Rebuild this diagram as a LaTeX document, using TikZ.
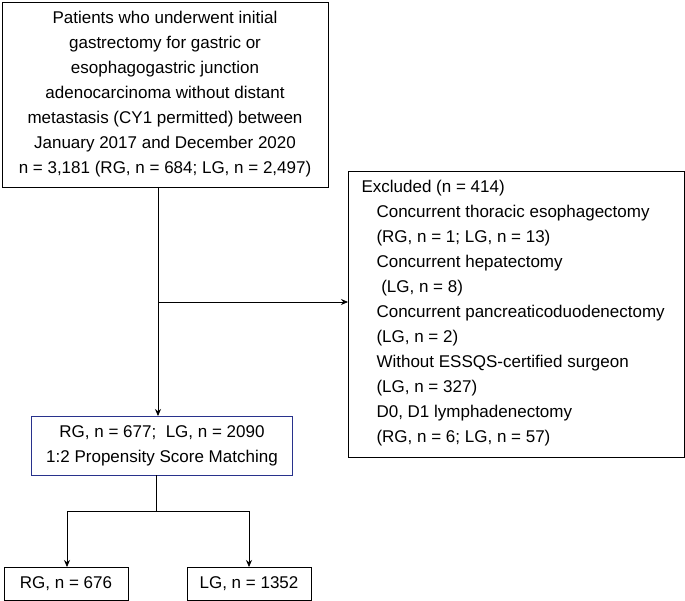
\documentclass[tikz,border=0pt]{standalone}
\usepackage{fontspec}
\setmainfont{Liberation Sans}
\usetikzlibrary{arrows.meta}
\begin{document}
\begin{tikzpicture}[x=1pt,y=-1pt,
 box/.style={draw,line width=0.8pt,inner sep=0pt},
 arr/.style={-{Stealth[length=7pt,width=6pt]},line width=0.8pt},
 ln/.style={line width=0.8pt},
 txt/.style={font=\fontsize{17}{25}\selectfont}]
\useasboundingbox (0,0) rectangle (685,601);
\draw[box] (2,2) rectangle (328,187);
\node[txt,align=center] (top) at (165,94) {Patients who underwent initial\\gastrectomy for gastric or\\esophagogastric junction\\adenocarcinoma without distant\\metastasis (CY1 permitted) between\\January 2017 and December 2020\\n = 3,181 (RG, n = 684; LG, n = 2,497)};
\draw[box] (348,171) rectangle (684,457);
\node[txt,align=left,anchor=north west] (exc) at (358,177) {Excluded (n = 414)\\
\hspace*{15pt}Concurrent thoracic esophagectomy\\
\hspace*{15pt}(RG, n = 1; LG, n = 13)\\
\hspace*{15pt}Concurrent hepatectomy\\
\hspace*{15pt} (LG, n = 8)\\
\hspace*{15pt}Concurrent pancreaticoduodenectomy\\
\hspace*{15pt}(LG, n = 2)\\
\hspace*{15pt}Without ESSQS-certified surgeon\\
\hspace*{15pt}(LG, n = 327)\\
\hspace*{15pt}D0, D1 lymphadenectomy\\
\hspace*{15pt}(RG, n = 6; LG, n = 57)};
\draw[box,draw={rgb,255:red,40;green,50;blue,140}] (31,416) rectangle (292,475);
\node[txt,align=center] (psm) at (162,446) {RG, n = 677;\ \ LG, n = 2090\\1:2 Propensity Score Matching};
\draw[box] (4,567) rectangle (128,600);
\node[txt] (rg) at (66,584) {RG, n = 676};
\draw[box] (187,567) rectangle (311,600);
\node[txt] (lg) at (249,584) {LG, n = 1352};
\coordinate (a) at (158,187);
\coordinate (b) at (158,302);
\coordinate (c) at (348,302);
\coordinate (d) at (158,416);
\draw[ln] (a) -- (b);
\draw[arr] (b) -- (d);
\draw[arr] (b) -- (c);
\coordinate (e) at (156,475);
\coordinate (f) at (156,511);
\coordinate (g) at (67,511);
\coordinate (h) at (249,511);
\draw[ln] (e) -- (f) (g) -- (h);
\draw[arr] (g) -- (67,567);
\draw[arr] (h) -- (249,567);
\end{tikzpicture}
\end{document}
